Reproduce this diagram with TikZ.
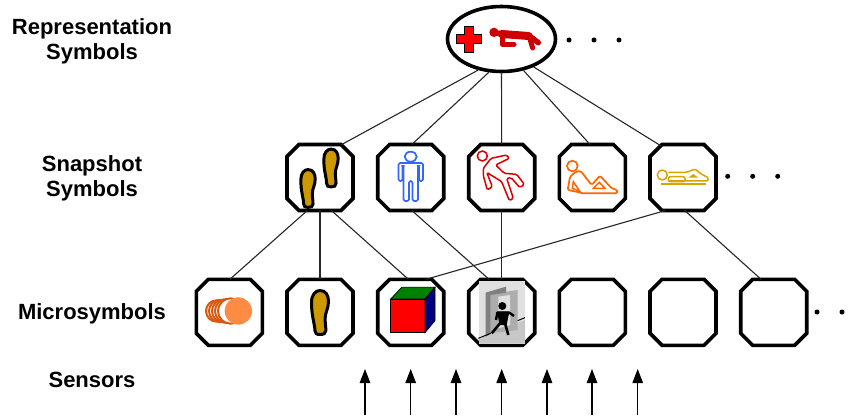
\documentclass[tikz,border=0pt]{standalone}
\usepackage{fontspec}
\setmainfont{Liberation Sans}
\usetikzlibrary{shapes.geometric}
\usetikzlibrary{shapes.misc}
\usetikzlibrary{arrows.meta}
\definecolor{footgold}{HTML}{CC9900}
\definecolor{manblue}{HTML}{3366FF}
\definecolor{lyinggold}{HTML}{D9A400}
\definecolor{blobdark}{HTML}{D9590F}
\definecolor{blobpale}{HTML}{FF8C42}
\newcommand{\symblank}{\rule{54pt}{0pt}\rule{0pt}{54pt}}
\tikzset{>=latex}
\tikzset{
  symbox/.style={draw, line width=3.6pt, chamfered rectangle, chamfered rectangle xsep=6pt,
    chamfered rectangle ysep=6pt, inner sep=0pt, outer sep=0pt, text depth=0pt},
  repbox/.style={draw, line width=3.6pt, ellipse, minimum width=108pt, minimum height=65pt, inner sep=0pt},
  levellabel/.style={font=\fontsize{22}{25.5}\selectfont\bfseries, align=center, text depth=0pt},
  link/.style={line width=1.1pt, black!85},
  sensorarrow/.style={line width=1.1pt, -{Triangle[length=14pt,width=10.5pt]}},
  footprint/.pic={
    \filldraw[fill=footgold, draw=black, line width=3pt]
      (0,-22) .. controls (7,-22) and (10,-17) .. (10,-11)
      .. controls (10,-4) and (6,0) .. (6,6)
      .. controls (6,11) and (7,14) .. (7,18)
      .. controls (7,21) and (4,22) .. (0,22)
      .. controls (-4,22) and (-6,21) .. (-6,18)
      .. controls (-6,12) and (-10,4) .. (-10,-10)
      .. controls (-10,-18) and (-5,-22) .. (0,-22) -- cycle;
  }
}
\begin{document}
\begin{tikzpicture}[x=1pt, y=-1pt]
  \useasboundingbox (0,0) rectangle (865,417);
  % level names
  \node[levellabel] (replabel) at (92,39) {Representation\\Symbols};
  \node[levellabel] (snaplabel) at (92,176) {Snapshot\\Symbols};
  \node[levellabel] (microlabel) at (92,312) {Microsymbols};
  \node[levellabel] (sensorlabel) at (92,380) {Sensors};
  % symbols
  \node[repbox] (rep) at (501.5,39) {};
  \foreach \x [count=\i] in {320,410.7,501.7,592.3,683}
    \node[symbox] (snap\i) at (\x,177.5) {\symblank};
  \foreach \x [count=\i] in {229.3,320,410.7,501.7,592.3,683,773.7}
    \node[symbox] (micro\i) at (\x,312.3) {\symblank};
  % links
  \draw[link] (rep.233) -- (snap1.57);
  \draw[link] (rep.249) -- (snap2.88);
  \draw[link] (rep.270) -- (snap3.90);
  \draw[link] (rep.305) -- (snap4.94);
  \draw[link] (rep.319) -- (snap5.125);
  \draw[link] (snap1.249) -- (micro1.89);
  \draw[link] (snap1.270) -- (micro2.90);
  \draw[link] (snap1.289) -- (micro3.94);
  \draw[link] (snap2.272) -- (micro4.111);
  \draw[link] (snap3.270) -- (micro4.90);
  \draw[link] (snap5.242) -- (micro3.65);
  \draw[link] (snap5.273) -- (micro7.111);
  % sensors
  \foreach \x [count=\i] in {365,410.7,456,501.7,547,592,637.7} {
    \coordinate (sbottom\i) at (\x,415);
    \coordinate (stop\i) at (\x,369);
    \draw[sensorarrow] (sbottom\i) -- (stop\i);
  }
  % dots
  \foreach \x in {569,594,619}
    \fill (\x,40) circle (2.5pt);
  \foreach \x in {727.7,752.7,777.7}
    \fill (\x,176.3) circle (2.5pt);
  \foreach \x in {817,842}
    \fill (\x,312) circle (2.5pt);
  % cross and crawling man
  \begin{scope}[shift={(430,0)}, scale=1/3]
    \filldraw[fill=red, draw=black, line width=1pt] (104,81) -- (130,81) -- (130,105) -- (155,105) -- (155,131)
      -- (130,131) -- (130,157) -- (104,157) -- (104,131) -- (79,131) -- (79,105) -- (104,105) -- cycle;
    \fill[red!80!black] (192,97) circle (14);
    \draw[red!80!black, line width=8pt, line cap=round, line join=round] (215,102) -- (296,108);
    \draw[red!80!black, line width=5.5pt, line cap=round, line join=round] (205,100) -- (296,106) -- (325,128);
    \draw[red!80!black, line width=5pt, line cap=round, line join=round] (217,108) -- (217,133) -- (252,133);
    \draw[red!80!black, line width=5pt, line cap=round] (298,110) -- (308,144);
  \end{scope}
  % feet
  \pic[xscale=0.72, yscale=0.86] at (331,168) {footprint};
  \pic[xscale=0.72, yscale=0.86] at (308,188.5) {footprint};
  \pic[xscale=0.85] at (320,312.5) {footprint};
  % standing man
  \draw[manblue, line width=1.7pt] (410.7,156.7) ellipse (6 and 5);
  \draw[manblue, line width=1.7pt, rounded corners=1.5pt, line join=round]
    (398.5,163) -- (423,163) -- (423,181) -- (419,181) -- (419,166) -- (418,166) -- (418,201) -- (412.5,201)
    -- (412.5,181) -- (409,181) -- (409,201) -- (403.5,201) -- (403.5,166) -- (402.5,166) -- (402.5,181)
    -- (398.5,181) -- cycle;
  % falling man
  \begin{scope}[shift={(275,135)}, scale=1/3]
    \draw[red!85!black, line width=1.5pt] (622,63) circle (15);
    \draw[red!85!black, line width=1.5pt, rounded corners=1.5pt, line join=round]
      (648,70) -- (695,60) -- (703,70) -- (662,90) -- (688,115) -- (725,118) -- (748,148) -- (735,158) -- (708,128)
      -- (695,130) -- (715,190) -- (703,197) -- (680,140) -- (635,112) -- (652,155) -- (637,165) -- (625,122)
      -- (625,100) -- cycle;
  \end{scope}
  % resting man
  \begin{scope}[shift={(540,135)}, scale=1/3]
    \draw[orange!80!red, line width=1.7pt] (97,93) circle (16);
    \draw[orange!80!red, line width=1.7pt, rounded corners=1.5pt, line join=round]
      (108,110) -- (122,108) -- (155,150) -- (180,122) -- (215,160) -- (232,165) -- (232,175) -- (125,175)
      -- (118,172) -- (83,165) -- (90,125) -- cycle;
    \draw[orange!80!red, line width=1.5pt] (178,142) -- (160,160) -- (195,160) -- cycle;
    \draw[orange!80!red, line width=1.5pt] (100,140) -- (97,160) -- (120,170) -- cycle;
  \end{scope}
  % man on a stretcher
  \begin{scope}[shift={(540,135)}, scale=1/3]
    \draw[lyinggold, line width=1.5pt] (367,120) circle (15);
    \draw[lyinggold, line width=1.5pt, rounded corners=1.5pt, line join=round]
      (385,112) -- (440,112) -- (465,102) -- (485,118) -- (505,128) -- (505,138) -- (385,138);
    \draw[lyinggold, line width=1.5pt, rounded corners=2pt] (385,125) rectangle (435,140);
    \fill[lyinggold] (445,128) -- (460,117) -- (475,128) -- cycle;
    \draw[lyinggold, line width=1.5pt] (362,147) -- (497,147);
  \end{scope}
  % orange blob
  \begin{scope}[shift={(190,270)}, scale=1/3]
    \foreach \x/\r in {80/32,90/33,100/34,111/36,122/38}
      \draw[blobdark, line width=2pt, fill=white] (\x,123) circle (\r);
    \fill[blobpale] (145,123) circle (41);
  \end{scope}
  % cube
  \begin{scope}[shift={(370,270)}, scale=1/3]
    \filldraw[fill=red, draw=black, line width=0.7pt] (62,87) rectangle (165,188);
    \filldraw[fill=green!50!black, draw=black, line width=0.7pt] (62,87) -- (95,52) -- (195,52) -- (165,87) -- cycle;
    \filldraw[fill=blue!50!black, draw=black, line width=0.7pt] (165,87) -- (195,52) -- (195,152) -- (165,188) -- cycle;
  \end{scope}
  % door
  \begin{scope}[shift={(370,270)}, scale=1/3]
    \fill[black!12] (327,32) rectangle (465,221);
    \fill[black!22] (327,208) -- (465,150) -- (465,221) -- (327,221) -- cycle;
    \fill[black!32] (362,72) -- (443,60) -- (443,180) -- (362,190) -- cycle;
    \fill[black!12] (385,80) -- (420,75) -- (420,165) -- (385,175) -- cycle;
    \fill[black!50] (347,68) -- (408,50) -- (408,68) -- (362,75) -- (362,192) -- (347,200) -- cycle;
    \draw[black, line width=1pt] (325,205) -- (362,190);
    \draw[black, line width=1pt] (443,152) -- (465,143);
    \fill[black] (397,108) circle (12);
    \draw[black, line width=2.4pt, line join=round] (378,150) -- (382,128) -- (418,128) -- (432,138);
    \fill[black] (382,125) -- (418,125) -- (410,165) -- (388,165) -- cycle;
    \draw[black, line width=2.6pt] (390,160) -- (365,190);
    \draw[black, line width=2.6pt] (405,160) -- (415,195);
  \end{scope}
\end{tikzpicture}
\end{document}
